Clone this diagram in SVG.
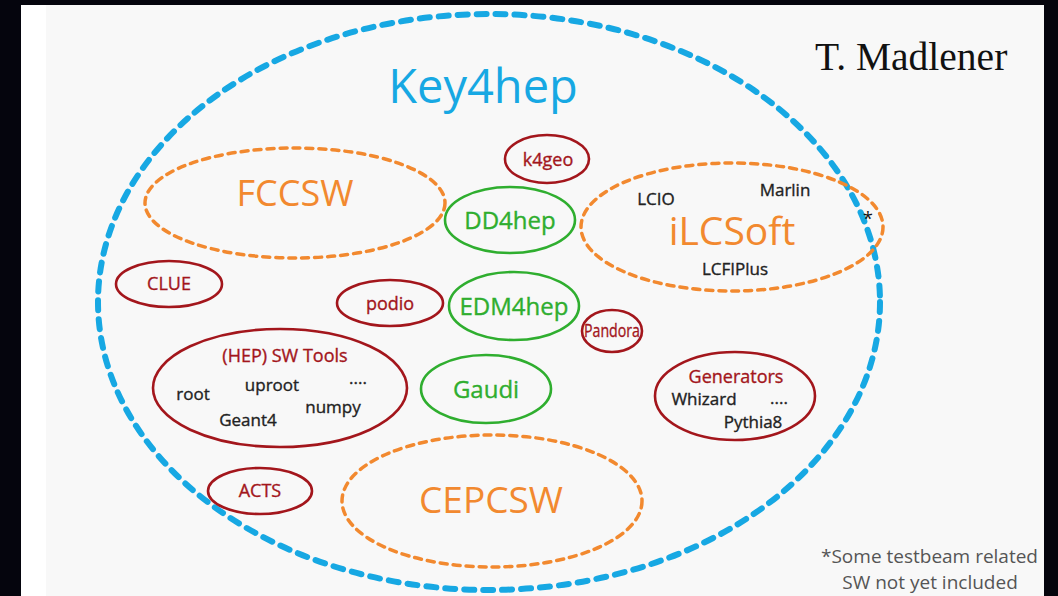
<svg xmlns="http://www.w3.org/2000/svg" width="1058" height="596" viewBox="0 0 1058 596">
<style>
.t{font-family:"Open Sans","Noto Sans","Liberation Sans",sans-serif;text-anchor:middle;font-weight:500}
.blue{fill:none;stroke:#17a8e3;stroke-width:6;stroke-dasharray:10 9;stroke-linecap:round}
.orange{fill:none;stroke:#f2892f;stroke-width:3.5;stroke-dasharray:7 6;stroke-linecap:round}
.red{fill:none;stroke:#a3161c;stroke-width:2.6}
.green{fill:none;stroke:#2fae2f;stroke-width:2.6}
.tr{fill:#a3161c;stroke:#a3161c;stroke-width:0.35;font-size:18px}
.tg{fill:#2fae2f;stroke:#2fae2f;stroke-width:0.35;font-size:24px}
.to{fill:#f2892f}
.tk{fill:#222;stroke:#222;stroke-width:0.35;font-size:17px}
.fn{font-family:"Open Sans","Noto Sans",sans-serif;font-size:19px;fill:#555}
</style>
<rect x="0" y="0" width="1058" height="596" fill="#05050d"/>
<rect x="21" y="5" width="1023" height="591" fill="#ffffff"/>
<rect x="46" y="5" width="998" height="591" fill="#f8f8f8"/>
<g id="key4hep">
<ellipse class="blue" cx="489" cy="302" rx="391" ry="288"/>
<text class="t" x="483" y="103" font-size="47" fill="#17a8e3" style="font-weight:400">Key4hep</text>
</g>
<g id="fccsw">
<ellipse class="orange" cx="295" cy="203" rx="150" ry="55"/>
<text class="t to" x="295" y="206" font-size="36">FCCSW</text>
</g>
<g id="ilcsoft">
<ellipse class="orange" cx="732" cy="227" rx="151" ry="64"/>
<text class="t to" x="732" y="245" font-size="39">iLCSoft</text>
<text class="t tk" x="656" y="205">LCIO</text>
<text class="t tk" x="785" y="196">Marlin</text>
<text class="t tk" x="735" y="275">LCFIPlus</text>
<text class="t" x="868" y="225" font-size="18" fill="#111">*</text>
</g>
<g id="cepcsw">
<ellipse class="orange" cx="492" cy="501" rx="150" ry="66"/>
<text class="t to" x="491" y="513" font-size="37">CEPCSW</text>
</g>
<g id="k4geo">
<ellipse class="red" cx="547" cy="159" rx="42" ry="24"/>
<text class="t tr" x="548" y="166">k4geo</text>
</g>
<g id="dd4hep">
<ellipse class="green" cx="510" cy="220" rx="65" ry="33"/>
<text class="t tg" x="510" y="229">DD4hep</text>
</g>
<g id="edm4hep">
<ellipse class="green" cx="514" cy="306" rx="65" ry="34"/>
<text class="t tg" x="514" y="315">EDM4hep</text>
</g>
<g id="gaudi">
<ellipse class="green" cx="486" cy="389" rx="65" ry="34"/>
<text class="t tg" x="486" y="398">Gaudi</text>
</g>
<g id="podio">
<ellipse class="red" cx="390" cy="303" rx="53" ry="23"/>
<text class="t tr" x="390" y="310">podio</text>
</g>
<g id="pandora">
<ellipse class="red" cx="612" cy="331" rx="30" ry="21"/>
<text class="t tr" x="612" y="337" font-size="16" textLength="56" lengthAdjust="spacingAndGlyphs">Pandora</text>
</g>
<g id="clue">
<ellipse class="red" cx="169" cy="284" rx="53" ry="23"/>
<text class="t tr" x="169" y="290">CLUE</text>
</g>
<g id="acts">
<ellipse class="red" cx="260" cy="491" rx="52" ry="23"/>
<text class="t tr" x="260" y="497">ACTS</text>
</g>
<g id="hep-sw-tools">
<ellipse class="red" cx="280" cy="388" rx="127" ry="59"/>
<text class="t tr" x="285" y="362">(HEP) SW Tools</text>
<text class="t tk" x="193" y="400">root</text>
<text class="t tk" x="272" y="391">uproot</text>
<text class="t tk" x="358" y="384">....</text>
<text class="t tk" x="333" y="413">numpy</text>
<text class="t tk" x="248" y="426">Geant4</text>
</g>
<g id="generators">
<ellipse class="red" cx="735" cy="396" rx="80" ry="44"/>
<text class="t tr" x="736" y="383">Generators</text>
<text class="t tk" x="704" y="405">Whizard</text>
<text class="t tk" x="779" y="404">....</text>
<text class="t tk" x="753" y="428">Pythia8</text>
</g>
<g id="connectors"/>
<text x="815" y="70" font-family="Liberation Serif,serif" font-size="39.5" fill="#111">T. Madlener</text>
<text class="fn" x="1038" y="563" text-anchor="end">*Some testbeam related</text>
<text class="fn" x="930" y="589" text-anchor="middle">SW not yet included</text>
</svg>
